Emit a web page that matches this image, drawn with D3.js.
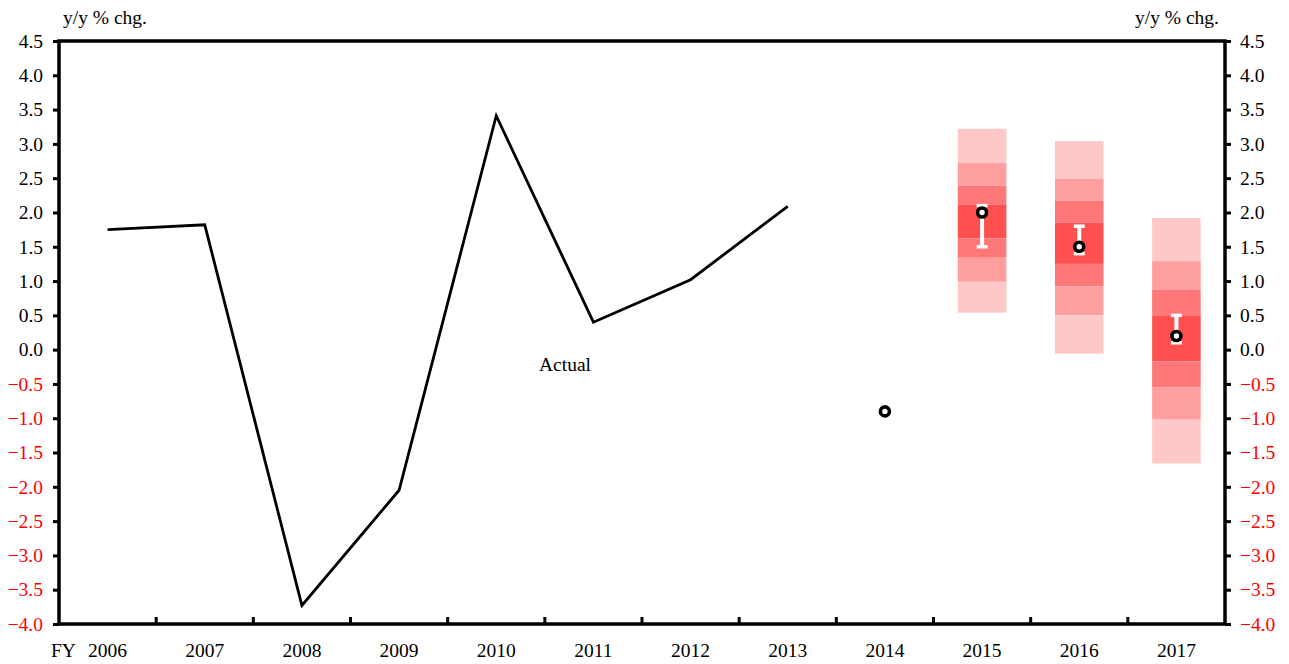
<!DOCTYPE html>
<html>
<head>
<meta charset="utf-8">
<script src="https://cdn.jsdelivr.net/npm/d3@7"></script>
<style>
  html, body { margin: 0; padding: 0; background: #fff; }
  svg { display: block; font-family: "Liberation Serif", "Times New Roman", serif; }
</style>
</head>
<body>
<svg id="chart" width="1289" height="664"></svg>
<script>
// Fiscal years on the x axis
const years = ["2006", "2007", "2008", "2009", "2010", "2011", "2012", "2013", "2014", "2015", "2016", "2017"];

// Actual growth, FY2006–FY2013
const actualYears = ["2006", "2007", "2008", "2009", "2010", "2011", "2012", "2013"];
const actualValues = [1.75, 1.82, -3.73, -2.05, 3.41, 0.40, 1.02, 2.09];

// Medians of the forecasts
const medianYears = ["2014", "2015", "2016", "2017"];
const medianValues = [-0.9, 2.0, 1.5, 0.2];

// Range of the majority of forecasts (white bars)
const rangeYears = ["2015", "2016", "2017"];
const rangeLow = [1.5, 1.4, 0.1];
const rangeHigh = [2.1, 1.8, 0.5];

// Distribution band edges, top to bottom, per forecast year
const fanYears = ["2015", "2016", "2017"];
const fanEdges2015 = [3.22, 2.72, 2.39, 2.11, 1.62, 1.34, 0.99, 0.54];
const fanEdges2016 = [3.04, 2.49, 2.17, 1.85, 1.25, 0.92, 0.50, -0.06];
const fanEdges2017 = [1.92, 1.29, 0.87, 0.49, -0.17, -0.55, -1.02, -1.66];

// Y axis ticks
const yTicks = [4.5, 4.0, 3.5, 3.0, 2.5, 2.0, 1.5, 1.0, 0.5, 0.0, -0.5, -1.0, -1.5, -2.0, -2.5, -3.0, -3.5, -4.0];

const fanColors = ["#ffc8c8", "#ff9e9e", "#ff7878", "#ff5050", "#ff7878", "#ff9e9e", "#ffc8c8"];

const svg = d3.select("#chart");
const plotLeft = 59, plotRight = 1225, plotTop = 41, plotBottom = 624;
const fontSize = 19.5;

const x = d3.scaleBand().domain(years).range([plotLeft, plotRight]).paddingInner(0).paddingOuter(0);
const y = d3.scaleLinear().domain([-4, 4.5]).range([plotBottom, plotTop]);
const cx = d => x(d) + x.bandwidth() / 2;

// Fan chart blocks
const fanEdges = [fanEdges2015, fanEdges2016, fanEdges2017];
fanYears.forEach((yr, i) => {
  const edges = fanEdges[i];
  const g = svg.append("g");
  for (let k = 0; k < edges.length - 1; k++) {
    g.append("rect")
      .attr("x", cx(yr) - x.bandwidth() / 4)
      .attr("width", x.bandwidth() / 2)
      .attr("y", y(edges[k]))
      .attr("height", y(edges[k + 1]) - y(edges[k]))
      .attr("fill", fanColors[k]);
  }
});

// White range bars
rangeYears.forEach((yr, i) => {
  const g = svg.append("g").attr("stroke", "#fff").attr("fill", "none");
  const xc = cx(yr);
  g.append("line").attr("x1", xc).attr("x2", xc)
    .attr("y1", y(rangeHigh[i])).attr("y2", y(rangeLow[i])).attr("stroke-width", 4);
  [rangeHigh[i], rangeLow[i]].forEach(v => {
    g.append("line").attr("x1", xc - 5.5).attr("x2", xc + 5.5)
      .attr("y1", y(v)).attr("y2", y(v)).attr("stroke-width", 3.5);
  });
});

// Actual line
const line = d3.line().x(d => cx(d[0])).y(d => y(d[1]));
svg.append("path")
  .datum(actualYears.map((yr, i) => [yr, actualValues[i]]))
  .attr("d", line)
  .attr("fill", "none")
  .attr("stroke", "#000")
  .attr("stroke-width", 2.8)
  .attr("stroke-linejoin", "miter");

// Median markers
svg.selectAll("circle.median")
  .data(medianYears.map((yr, i) => [yr, medianValues[i]]))
  .join("circle")
  .attr("class", "median")
  .attr("cx", d => cx(d[0]))
  .attr("cy", d => y(d[1]))
  .attr("r", 4.5)
  .attr("fill", "#fff")
  .attr("stroke", "#000")
  .attr("stroke-width", 3.6);

// Frame
svg.append("rect")
  .attr("x", plotLeft).attr("y", plotTop)
  .attr("width", plotRight - plotLeft).attr("height", plotBottom - plotTop)
  .attr("fill", "none").attr("stroke", "#000").attr("stroke-width", 3.5);

const labelColor = d => d < 0 ? "#ff0000" : "#000";
const fmt = d3.format(".1f");

// Left axis
const yLeft = d3.axisLeft(y).tickValues(yTicks).tickSize(6).tickPadding(10).tickFormat(fmt);
const gl = svg.append("g").attr("transform", `translate(${plotLeft},0)`).call(yLeft);
gl.select(".domain").remove();
gl.selectAll(".tick line").attr("stroke", "#000").attr("stroke-width", 3);
gl.selectAll(".tick text").attr("font-size", fontSize).attr("font-family", "Liberation Serif")
  .attr("fill", d => labelColor(d));

// Right axis
const yRight = d3.axisRight(y).tickValues(yTicks).tickSize(6).tickPadding(9).tickFormat(fmt);
const gr = svg.append("g").attr("transform", `translate(${plotRight},0)`).call(yRight);
gr.select(".domain").remove();
gr.selectAll(".tick line").attr("stroke", "#000").attr("stroke-width", 3);
gr.selectAll(".tick text").attr("font-size", fontSize).attr("font-family", "Liberation Serif")
  .attr("fill", d => labelColor(d));

// Bottom axis: ticks on band boundaries pointing inward
const xb = svg.append("g").attr("transform", `translate(0,${plotBottom})`);
years.slice(1).forEach(yr => {
  xb.append("line").attr("x1", x(yr)).attr("x2", x(yr))
    .attr("y1", 0).attr("y2", -7).attr("stroke", "#000").attr("stroke-width", 3);
});
xb.selectAll("text.year")
  .data(years)
  .join("text")
  .attr("class", "year")
  .attr("x", d => cx(d))
  .attr("y", 33)
  .attr("text-anchor", "middle")
  .attr("font-size", fontSize)
  .attr("fill", "#000")
  .text(d => d);
xb.append("text").attr("x", 51).attr("y", 33).attr("font-size", fontSize).text("FY");

// Unit labels
svg.append("text").attr("x", 63).attr("y", 24).attr("font-size", fontSize).text("y/y % chg.");
svg.append("text").attr("x", 1219).attr("y", 24).attr("font-size", fontSize)
  .attr("text-anchor", "end").text("y/y % chg.");

// Series label
svg.append("text").attr("x", 565).attr("y", 371).attr("font-size", fontSize)
  .attr("text-anchor", "middle").text("Actual");
</script>
</body>
</html>
